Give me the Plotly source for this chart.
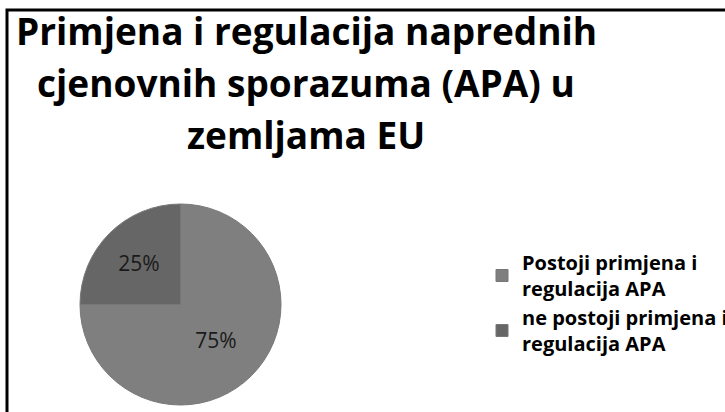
import plotly.graph_objects as go

W, H = 725, 412

labels = ["Postoji primjena i<br>regulacija APA", "ne postoji primjena i<br>regulacija APA"]
values = [75, 25]
colors = ["#7f7f7f", "#666666"]
title_lines = ["Primjena i regulacija naprednih",
               "cjenovnih sporazuma (APA) u",
               "zemljama EU"]

def px_x(x):
    return x / W

def px_y(y):
    return 1 - y / H

fig = go.Figure()
fig.add_trace(go.Pie(
    labels=labels,
    values=values,
    sort=False,
    direction="clockwise",
    rotation=0,
    marker=dict(colors=colors, line=dict(color="#777777", width=1)),
    texttemplate="%{percent:.0%}",
    textposition="inside",
    insidetextorientation="horizontal",
    textfont=dict(family="Open Sans", size=21, color="#1a1a1a"),
    domain=dict(x=[px_x(80), px_x(281)], y=[px_y(405), px_y(204)]),
    hoverinfo="label+percent",
))

baselines = [43, 95, 147]
annotations = []
for line, b in zip(title_lines, baselines):
    annotations.append(dict(
        text=line, x=px_x(306), y=px_y(b + 15), xref="paper", yref="paper",
        xanchor="center", yanchor="bottom", showarrow=False,
        font=dict(family="Open Sans", size=37, color="#000000", weight="bold"),
    ))

fig.update_layout(
    width=W, height=H,
    margin=dict(l=0, r=0, t=0, b=0, autoexpand=False),
    paper_bgcolor="white",
    plot_bgcolor="white",
    showlegend=True,
    legend=dict(
        x=px_x(482), y=px_y(243), xanchor="left", yanchor="top",
        font=dict(family="Open Sans", size=20, color="#000000", weight="bold"),
        bgcolor="rgba(0,0,0,0)",
    ),
    annotations=annotations,
    shapes=[
        dict(type="rect", xref="paper", yref="paper", layer="above",
             x0=px_x(7), x1=px_x(740), y0=px_y(430), y1=px_y(10),
             line=dict(color="black", width=3), fillcolor="rgba(0,0,0,0)"),
    ],
)

fig.write_html("out.html")
